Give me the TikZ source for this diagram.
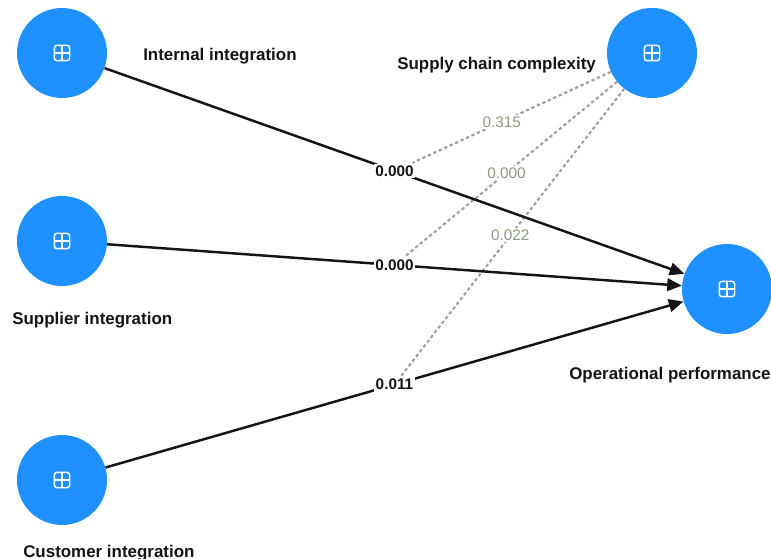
\documentclass[tikz,border=0pt]{standalone}
\usepackage{fontspec}
\setmainfont{Liberation Sans}
\usetikzlibrary{arrows.meta,calc,backgrounds}
\definecolor{nodeblue}{RGB}{30,144,255}
\definecolor{labgray}{RGB}{138,154,128}
\definecolor{dotgray}{RGB}{160,160,160}
\definecolor{inkblack}{RGB}{20,20,20}
\tikzset{
  lv/.style={circle, fill=nodeblue, minimum size=67.5pt, inner sep=0pt},
  lvname/.style={font=\bfseries\fontsize{12.7}{14}\selectfont, text=inkblack, inner sep=0pt, anchor=base west},
  pathlab/.style={font=\bfseries\fontsize{11.5}{13}\selectfont, text=inkblack, fill=white, inner sep=1.2pt},
  glab/.style={font=\fontsize{11.5}{13}\selectfont, text=labgray, fill=white, inner sep=1.2pt},
  mainarrow/.style={draw=inkblack, line width=1.85pt, -{Triangle[length=11pt,width=9.5pt]}},
  dotline/.style={draw=dotgray, line width=1.6pt, dash pattern=on 2.5pt off 2pt},
  plusicon/.pic={
    \draw[white, line width=1.1pt, rounded corners=2.2pt] (-5.8pt,-5.8pt) rectangle (5.8pt,5.8pt);
    \draw[white, line width=1.1pt] (-5.8pt,0pt) -- (5.8pt,0pt) (0pt,-5.8pt) -- (0pt,5.8pt);
  }
}
\begin{document}
\begin{tikzpicture}[x=0.75pt,y=-0.75pt]
\useasboundingbox (0,0) rectangle (771,559);

% latent variables
\node[lv] (ii) at (62,53) {};
\node[lv] (si) at (62,241) {};
\node[lv] (ci) at (62,480) {};
\node[lv] (scc) at (652,53) {};
\node[lv] (op) at (727,289) {};
\foreach \n in {ii,si,ci,scc,op} {\pic at (\n) {plusicon};}

% names
\node[lvname] (tii) at (143,61) {Internal integration};
\node[lvname] (tscc) at (397,70) {Supply chain complexity};
\node[lvname] (tsi) at (12,325) {Supplier integration};
\node[lvname] (tci) at (23,557) {Customer integration};
\node[lvname] (top) at (569,380) {Operational performance};

% main paths
\draw[mainarrow] (ii) -- node[midway, pathlab] (l1) {0.000} (op);
\draw[mainarrow] (si) -- node[midway, pathlab] (l2) {0.000} (op);
\draw[mainarrow] (ci) -- node[midway, pathlab] (l3) {0.011} (op);

% moderating paths
\begin{pgfonlayer}{background}
\draw[dotline] (scc) -- node[pos=0.55, glab] (g1) {0.315} (l1);
\draw[dotline] (scc) -- node[pos=0.52, glab] (g2) {0.000} (l2);
\draw[dotline] (scc) -- node[pos=0.51, glab] (g3) {0.022} (l3);
\end{pgfonlayer}
\end{tikzpicture}
\end{document}
